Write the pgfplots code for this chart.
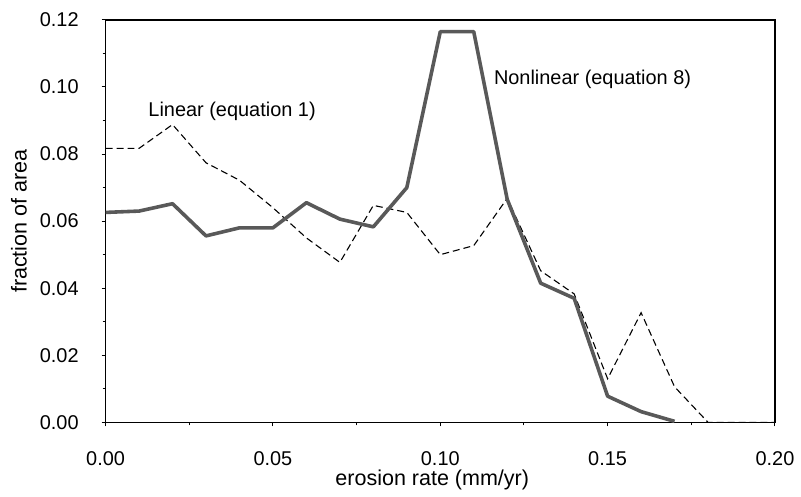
\documentclass[border=0pt]{standalone}
\usepackage{pgfplots}
\pgfplotsset{compat=1.18}
\usepackage{fontspec}
\setmainfont{Liberation Sans}
\begin{document}
\begin{tikzpicture}[font=\fontsize{10}{12}\selectfont]
\begin{axis}[
  name=ax,
  scale only axis,
  width=336pt, height=202pt,
  xmin=0, xmax=0.20, ymin=0, ymax=0.12,
  xtick={0,0.05,0.10,0.15,0.20},
  ytick={0,0.02,0.04,0.06,0.08,0.10,0.12},
  minor x tick num=1,
  minor y tick num=1,
  tick pos=left,
  tick align=outside,
  major tick length=2pt,
  minor tick length=1.5pt,
  tick style={black, line width=0.5pt},
  axis line style={black, line width=0.6pt},
  /pgf/number format/assume math mode=true,
  /pgf/number format/fixed,
  /pgf/number format/fixed zerofill,
  /pgf/number format/precision=2,
  scaled ticks=false,
  ticklabel style={font=\fontsize{10}{12}\selectfont},
  yticklabel shift=8pt,
  xticklabel shift=9pt,
  xlabel={erosion rate (mm/yr)},
  ylabel={fraction of area},
  label style={font=\fontsize{10.8}{13}\selectfont},
  xlabel style={at={(axis description cs:0.488,-0.1426)}, anchor=center},
  ylabel style={at={(axis description cs:-0.1295,0.5)}, anchor=center},
  clip=false,
]
% Linear (equation 1)
\addplot[black, line width=0.55pt, dash pattern=on 3.5pt off 2pt] coordinates {
(0.00,0.0817) (0.01,0.0817) (0.02,0.0888) (0.03,0.0774) (0.04,0.0722)
(0.05,0.0640) (0.06,0.0550) (0.07,0.0477) (0.08,0.0647) (0.09,0.0626)
(0.10,0.0500) (0.11,0.0527) (0.12,0.0668) (0.13,0.0452) (0.14,0.0383)
(0.15,0.0130) (0.16,0.0327) (0.17,0.0106) (0.18,0.0000) (0.19,0.0000)
(0.20,0.0000)
};
% Nonlinear (equation 8)
\addplot[black!65, line width=1.8pt, line join=round] coordinates {
(0.00,0.0626) (0.01,0.0630) (0.02,0.0652) (0.03,0.0556) (0.04,0.0580)
(0.05,0.0580) (0.06,0.0655) (0.07,0.0606) (0.08,0.0583) (0.09,0.0700)
(0.10,0.1165) (0.11,0.1165) (0.12,0.0665) (0.13,0.0415) (0.14,0.0370)
(0.15,0.0078) (0.16,0.0032) (0.17,0.0003)
};
\node at (axis cs:0.0378,0.0928) {Linear (equation 1)};
\node at (axis cs:0.1455,0.1022) {Nonlinear (equation 8)};
\end{axis}
\path ([xshift=-53pt,yshift=-37pt]ax.south west) rectangle ([xshift=11.5pt,yshift=10pt]ax.north east);
\end{tikzpicture}
\end{document}
